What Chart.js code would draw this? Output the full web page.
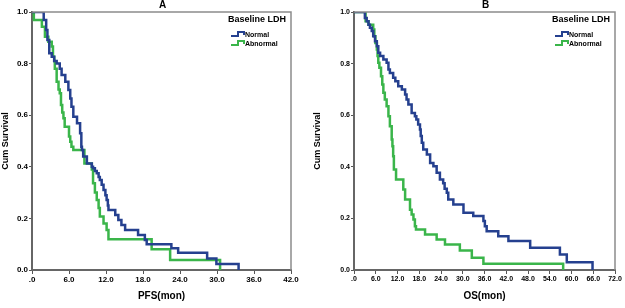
<!DOCTYPE html>
<html>
<head>
<meta charset="utf-8">
<script src="https://cdn.jsdelivr.net/npm/chart.js@4.4.1/dist/chart.umd.min.js"></script>
<style>
  body { margin: 0; background: #fff; }
  #wrap { position: relative; width: 625px; height: 308px; }
  canvas { position: absolute; top: 0; }
  #pfsChart { left: 0; }
  #osChart { left: 312px; }
</style>
</head>
<body>
<div id="wrap">
  <canvas id="pfsChart" width="312" height="308"></canvas>
  <canvas id="osChart" width="313" height="308"></canvas>
</div>
<script>
// Panel A - PFS (months) and cumulative survival
const pfsNormalTime = [0, 1.9, 2.3, 2.5, 2.8, 3.2, 3.6, 4.0, 4.5, 4.8, 5.4, 5.9, 6.2, 6.4, 6.7, 7.3, 7.8, 8.0, 8.1, 8.3, 8.9, 9.7, 9.9, 10.2, 10.5, 10.8, 11.0, 11.3, 11.6, 11.9, 12.1, 12.3, 12.4, 13.5, 14.0, 14.5, 15.1, 17.2, 18.3, 18.6, 22.6, 23.7, 28.4, 29.9, 33.5];
const pfsNormalSurv = [1.0, 0.969, 0.93, 0.891, 0.84, 0.827, 0.81, 0.80, 0.78, 0.756, 0.73, 0.698, 0.665, 0.633, 0.594, 0.569, 0.53, 0.478, 0.465, 0.44, 0.413, 0.40, 0.394, 0.384, 0.375, 0.36, 0.349, 0.33, 0.31, 0.29, 0.271, 0.25, 0.233, 0.213, 0.194, 0.174, 0.155, 0.136, 0.116, 0.10, 0.084, 0.067, 0.045, 0.023, 0.0];
const pfsAbnormalTime = [0, 0.3, 1.6, 2.1, 2.65, 3.2, 3.4, 3.6, 3.7, 4.0, 4.3, 4.5, 4.7, 4.9, 5.1, 5.3, 6.0, 6.2, 6.4, 6.7, 8.5, 9.7, 9.9, 10.2, 10.5, 10.8, 11.0, 11.6, 12.1, 12.4, 19.4, 22.4, 30.5];
const pfsAbnormalSurv = [1.0, 0.969, 0.943, 0.904, 0.885, 0.866, 0.827, 0.81, 0.78, 0.73, 0.70, 0.685, 0.64, 0.61, 0.588, 0.555, 0.517, 0.497, 0.478, 0.465, 0.413, 0.39, 0.336, 0.30, 0.271, 0.24, 0.207, 0.18, 0.155, 0.119, 0.08, 0.039, 0.0];

// Panel B - OS (months) and cumulative survival
const osNormalTime = [0, 3.0, 3.5, 4.0, 4.4, 4.9, 5.3, 5.8, 6.3, 6.7, 7.2, 8.1, 9.0, 9.5, 9.9, 10.8, 11.4, 12.2, 13.2, 14.1, 14.5, 15.0, 15.9, 16.8, 17.2, 17.7, 18.2, 18.4, 18.7, 19.1, 20.1, 21.0, 21.9, 22.8, 23.7, 24.6, 25.0, 25.6, 26.0, 27.4, 30.2, 32.9, 35.7, 36.1, 36.6, 39.8, 42.6, 48.6, 56.8, 58.7, 65.8];
const osNormalSurv = [1.0, 0.977, 0.964, 0.951, 0.939, 0.926, 0.906, 0.887, 0.867, 0.842, 0.829, 0.816, 0.803, 0.777, 0.764, 0.745, 0.732, 0.712, 0.70, 0.68, 0.661, 0.641, 0.609, 0.596, 0.583, 0.564, 0.545, 0.519, 0.493, 0.467, 0.448, 0.415, 0.402, 0.377, 0.351, 0.336, 0.315, 0.299, 0.273, 0.254, 0.222, 0.209, 0.19, 0.17, 0.15, 0.131, 0.112, 0.086, 0.06, 0.03, 0.0];
const osAbnormalTime = [0, 3.2, 4.0, 5.3, 5.6, 5.9, 6.3, 6.5, 6.7, 7.0, 7.45, 7.8, 8.1, 8.5, 9.0, 9.5, 9.9, 10.4, 10.6, 10.8, 11.0, 11.6, 13.6, 14.1, 15.45, 15.9, 16.4, 16.8, 17.1, 19.6, 22.8, 25.1, 29.2, 32.5, 35.7, 57.7];
const osAbnormalSurv = [1.0, 0.964, 0.951, 0.932, 0.906, 0.88, 0.855, 0.829, 0.803, 0.784, 0.751, 0.719, 0.687, 0.661, 0.635, 0.596, 0.557, 0.506, 0.48, 0.441, 0.39, 0.351, 0.312, 0.273, 0.234, 0.215, 0.196, 0.17, 0.157, 0.138, 0.118, 0.099, 0.076, 0.047, 0.024, 0.0];

// Tick labels and texts
const pfsTickLabels = ['.0', '6.0', '12.0', '18.0', '24.0', '30.0', '36.0', '42.0'];
const osTickLabels = ['.0', '6.0', '12.0', '18.0', '24.0', '30.0', '36.0', '42.0', '48.0', '54.0', '60.0', '66.0', '72.0'];
const survTickLabels = ['0.0', '0.2', '0.4', '0.6', '0.8', '1.0'];
const groupLabels = ['Normal', 'Abnormal'];
const legendTitle = 'Baseline LDH';

const blue = '#25408f';
const green = '#3ab54a';
const font = '"Liberation Sans", Arial, sans-serif';

function toPoints(times, surv) {
    return times.map((t, i) => ({ x: t, y: surv[i] }));
}

// frame, panel letter and legend
const panelPlugin = {
    id: 'panel',
    afterDraw(chart, args, opts) {
        const ctx = chart.ctx;
        const a = chart.chartArea;
        ctx.save();

        ctx.strokeStyle = '#8c8c8c';
        ctx.lineWidth = 1.5;
        ctx.beginPath();
        ctx.moveTo(a.left, a.top);
        ctx.lineTo(a.right, a.top);
        ctx.lineTo(a.right, a.bottom);
        ctx.stroke();

        ctx.fillStyle = '#000';
        ctx.font = 'bold 10px ' + font;
        ctx.textAlign = 'center';
        ctx.textBaseline = 'middle';
        ctx.fillText(opts.letter, (a.left + a.right) / 2 + 1, 5);

        const lx = a.right - 63;
        ctx.textAlign = 'left';
        ctx.font = 'bold 9px ' + font;
        ctx.fillText(legendTitle, lx, 20);

        ctx.font = 'bold 7px ' + font;
        chart.data.datasets.forEach((ds, i) => {
            const y = 34 + i * 9;
            const x = lx + 3;
            ctx.strokeStyle = ds.borderColor;
            ctx.lineWidth = 2;
            ctx.beginPath();
            ctx.moveTo(x, y + 2);
            ctx.lineTo(x + 7, y + 2);
            ctx.lineTo(x + 7, y - 2);
            ctx.lineTo(x + 13, y - 2);
            ctx.lineTo(x + 13, y + 1);
            ctx.stroke();
            ctx.fillText(ds.label, x + 14, y + 1);
        });

        ctx.restore();
    }
};

function makeChart(id, opts) {
    return new Chart(document.getElementById(id), {
        type: 'line',
        data: {
            datasets: [{
                label: groupLabels[0],
                data: toPoints(opts.normalTime, opts.normalSurv),
                borderColor: blue,
                borderWidth: 2.5,
                stepped: 'before',
                pointRadius: 0,
                fill: false
            }, {
                label: groupLabels[1],
                data: toPoints(opts.abnormalTime, opts.abnormalSurv),
                borderColor: green,
                borderWidth: 2.5,
                stepped: 'before',
                pointRadius: 0,
                fill: false
            }]
        },
        options: {
            responsive: false,
            animation: false,
            devicePixelRatio: 1,
            layout: { padding: { top: 12, right: opts.padRight, left: 0, bottom: 0 } },
            plugins: {
                legend: { display: false },
                tooltip: { enabled: false },
                panel: { letter: opts.letter }
            },
            scales: {
                x: {
                    type: 'linear',
                    min: 0,
                    max: opts.xMax,
                    afterFit: s => { s.height = 38; },
                    ticks: {
                        stepSize: 6,
                        maxRotation: 0,
                        autoSkip: false,
                        padding: 1,
                        color: '#000',
                        font: { family: font, weight: 'bold', size: opts.tickSize },
                        callback: v => opts.xLabels[Math.round(v / 6)]
                    },
                    grid: { drawOnChartArea: false, drawTicks: true, tickLength: 4, color: '#555' },
                    border: { color: '#666', width: 2 },
                    title: {
                        display: true,
                        text: opts.xTitle,
                        color: '#000',
                        font: { family: font, weight: 'bold', size: 10 },
                        padding: { top: 0, bottom: 6 }
                    }
                },
                y: {
                    min: 0,
                    max: 1,
                    afterFit: s => { s.width = opts.yWidth; },
                    ticks: {
                        stepSize: 0.2,
                        padding: 1,
                        color: '#000',
                        font: { family: font, weight: 'bold', size: opts.tickSize },
                        callback: v => survTickLabels[Math.round(v * 5)]
                    },
                    grid: { drawOnChartArea: false, drawTicks: true, tickLength: 3, color: '#555' },
                    border: { color: '#666', width: 2 },
                    title: {
                        display: true,
                        text: 'Cum Survival',
                        color: '#000',
                        font: { family: font, weight: 'bold', size: 9 },
                        padding: 0
                    }
                }
            }
        },
        plugins: [panelPlugin]
    });
}

// Panel A
makeChart('pfsChart', {
    letter: 'A',
    normalTime: pfsNormalTime, normalSurv: pfsNormalSurv,
    abnormalTime: pfsAbnormalTime, abnormalSurv: pfsAbnormalSurv,
    xMax: 42, xLabels: pfsTickLabels, xTitle: 'PFS(mon)',
    yWidth: 32, padRight: 21, tickSize: 8
});

// Panel B
makeChart('osChart', {
    letter: 'B',
    normalTime: osNormalTime, normalSurv: osNormalSurv,
    abnormalTime: osAbnormalTime, abnormalSurv: osAbnormalSurv,
    xMax: 72, xLabels: osTickLabels, xTitle: 'OS(mon)',
    yWidth: 42, padRight: 10, tickSize: 7
});
</script>
</body>
</html>
